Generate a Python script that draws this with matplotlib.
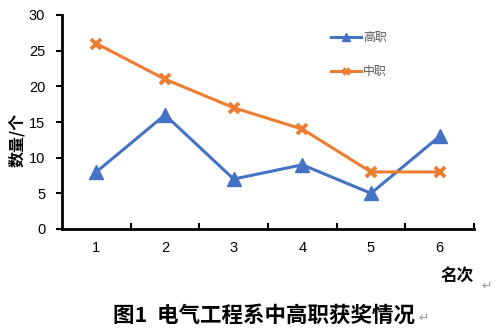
import matplotlib
matplotlib.use("Agg")
import matplotlib.pyplot as plt
from matplotlib.lines import Line2D

plt.rcParams['font.family'] = ['Liberation Sans', 'Noto Sans CJK SC', 'DejaVu Sans']

categories = [1, 2, 3, 4, 5, 6]
gaozhi = [8, 16, 7, 9, 5, 13]
zhongzhi = [26, 21, 17, 14, 8, 8]
yticks = [0, 5, 10, 15, 20, 25, 30]

blue = '#4472C4'
orange = '#ED7D31'

fig = plt.figure(figsize=(5.03, 3.31), dpi=100)
W, H = 503, 331
ax = fig.add_axes([62 / W, (H - 229) / H, (474 - 62) / W, (229 - 15) / H])

ax.plot(categories, gaozhi, color=blue, lw=2.2, marker='^', markersize=10,
        markeredgecolor=blue, markerfacecolor=blue, label='高职', zorder=3)
ax.plot(categories, zhongzhi, color=orange, lw=2.2, marker='x', markersize=7,
        markeredgewidth=2.8, markeredgecolor=orange, label='中职', zorder=3)

ax.set_xlim(0.5, 6.5)
ax.set_ylim(0, 30)
ax.set_yticks(yticks)
ax.set_yticklabels([str(v) for v in yticks], fontsize=10.5)
ax.set_xticks(categories)
ax.set_xticklabels([str(c) for c in categories], fontsize=10.5)
ax.set_xticks([1.5, 2.5, 3.5, 4.5, 5.5, 6.5], minor=True)
ax.tick_params(axis='x', which='major', length=0, pad=9)
ax.tick_params(axis='x', which='minor', direction='in', length=4, width=1.5)
ax.tick_params(axis='y', direction='out', length=4, width=1.5, pad=8)
for s in ['top', 'right']:
    ax.spines[s].set_visible(False)
for s in ['left', 'bottom']:
    ax.spines[s].set_linewidth(2)

handles = [Line2D([], [], color=blue, lw=2.2, marker='^', markersize=6),
           Line2D([], [], color=orange, lw=2.2, marker='x', markersize=5, markeredgewidth=2.5)]
leg = ax.legend(handles, ['高职', '中职'], loc='upper left', bbox_to_anchor=((320 - 62) / 412, 1 - (21 - 15) / 214),
                frameon=False, fontsize=8.6, handlelength=2.5, labelspacing=1.9, handletextpad=0.2,
                labelcolor='#595959')

fig.text(17 / W, 1 - 140 / H, '数量/个', rotation=90, ha='center', va='center',
         fontsize=11.5, fontweight='bold', family=['Noto Sans CJK SC', 'DejaVu Sans'])
fig.text(457 / W, 1 - 276 / H, '名次', ha='center', va='center', fontsize=12,
         fontweight='bold', family=['Noto Sans CJK SC', 'DejaVu Sans'])
fig.text(487 / W, 1 - 286 / H, '↵', ha='center', va='center', fontsize=9, color='#9a9a9a',
         family=['DejaVu Sans'])
fig.text(113 / W, 1 - 315 / H, '图1  电气工程系中高职获奖情况', ha='left', va='center',
         fontsize=15.5, fontweight='bold', family=['Noto Sans CJK SC', 'DejaVu Sans'])
fig.text(424 / W, 1 - 318 / H, '↵', ha='center', va='center', fontsize=9, color='#9a9a9a',
         family=['DejaVu Sans'])

fig.savefig('out.png', dpi=100)
